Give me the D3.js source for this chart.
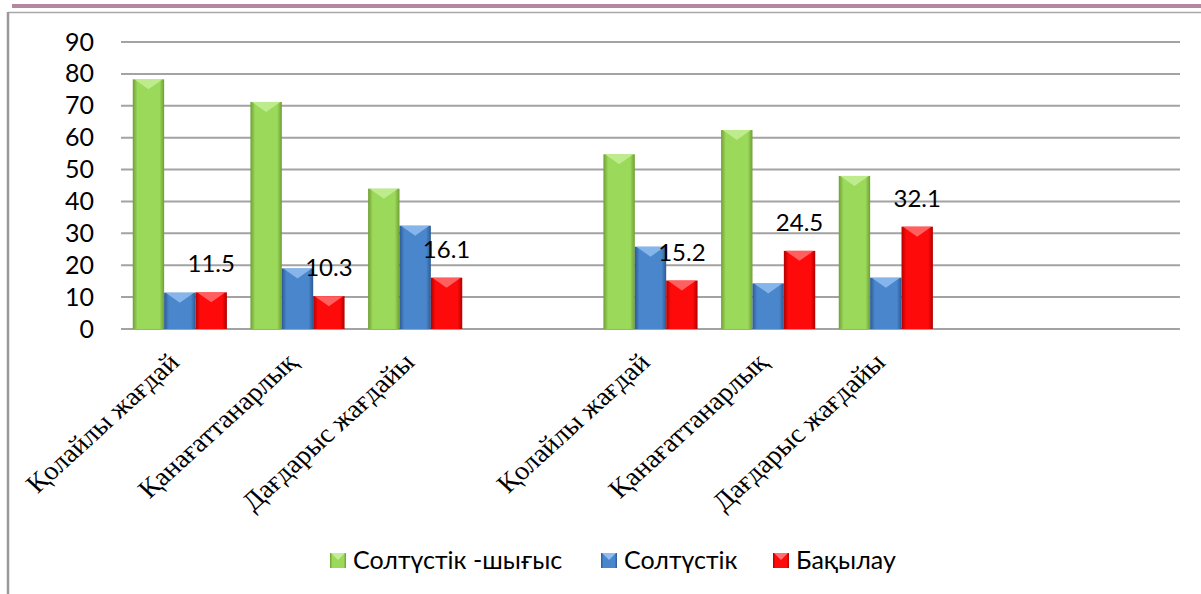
<!DOCTYPE html>
<meta charset="utf-8">
<body style="margin:0;background:#fff">
<style>
  .tick text { font-family: Lato, "Open Sans", sans-serif; }
  .cat { font-family: "Liberation Serif", "Times New Roman", serif; font-size: 26px; }
  .lbl { font-family: Lato, sans-serif; font-size: 24px; fill: #000; }
  .leg { font-family: Lato, sans-serif; font-size: 25px; fill: #000; }
</style>
<script src="https://d3js.org/d3.v7.min.js"></script>
<script>
var width = 1201, height = 594;

// categories: one empty slot between the blocks, two at the end
var categories = ["Қолайлы жағдай", "Қанағаттанарлық", "Дағдарыс жағдайы", "",
                  "Қолайлы жағдай", "Қанағаттанарлық", "Дағдарыс жағдайы", "", ""];
var seriesNames = ["Солтүстік -шығыс", "Солтүстік", "Бақылау"];
var northEast = [78.3, 71.2, 44, null, 54.8, 62.4, 48];
var north     = [11.4, 19, 32.4, null, 25.8, 14.3, 16.1];
var control   = [11.5, 10.3, 16.1, null, 15.2, 24.5, 32.1];
var yTicks = [0, 10, 20, 30, 40, 50, 60, 70, 80, 90];

var colors = [
  {edge: "#6f9e34", mid: "#9bd95a", top: "#c4ee95"},
  {edge: "#2c5a93", mid: "#4a86cc", top: "#8fbdf0"},
  {edge: "#b00000", mid: "#ff0a0a", top: "#ff6f6f"}
];

var series = [northEast, north, control];

var svg = d3.select("body").append("svg")
  .attr("width", width)
  .attr("height", height);

var defs = svg.append("defs");
colors.forEach(function(c, i) {
  var g = defs.append("linearGradient").attr("id", "grad" + i)
    .attr("x1", "0").attr("x2", "1").attr("y1", "0").attr("y2", "0");
  g.append("stop").attr("offset", "0%").attr("stop-color", c.edge);
  g.append("stop").attr("offset", "15%").attr("stop-color", c.mid);
  g.append("stop").attr("offset", "85%").attr("stop-color", c.mid);
  g.append("stop").attr("offset", "100%").attr("stop-color", c.edge);
});

// frame
svg.append("rect").attr("x", 12).attr("y", 4).attr("width", width - 12).attr("height", 4)
  .attr("fill", "#b3889f");
svg.append("line").attr("x1", 8).attr("x2", width).attr("y1", 12.5).attr("y2", 12.5)
  .attr("stroke", "#a8a8a8").attr("stroke-width", 1.5);
svg.append("line").attr("x1", 8).attr("x2", 8).attr("y1", 12).attr("y2", height)
  .attr("stroke", "#999").attr("stroke-width", 2.5);

var x0 = d3.scaleBand()
  .domain(d3.range(categories.length))
  .range([121, 1180]);

var x1 = d3.scaleBand()
  .domain(d3.range(seriesNames.length))
  .range([0, x0.bandwidth()])
  .paddingOuter(0.375);

var y = d3.scaleLinear().domain([0, 90]).range([329, 42]);

// gridlines
svg.append("g")
  .selectAll("line")
  .data(yTicks)
  .enter().append("line")
  .attr("x1", 121).attr("x2", 1180)
  .attr("y1", function(d) { return y(d); })
  .attr("y2", function(d) { return y(d); })
  .attr("stroke", "#a3a3a3")
  .attr("stroke-width", 2);

// y axis labels
var yAxis = svg.append("g")
  .attr("transform", "translate(94,0)")
  .call(d3.axisLeft(y).tickValues(yTicks).tickSize(0).tickPadding(0));
yAxis.select(".domain").remove();
yAxis.selectAll("text").attr("font-size", 25).attr("fill", "#000");

// bars
series.forEach(function(vals, s) {
  var data = vals.map(function(v, i) { return {i: i, v: v}; })
    .filter(function(d) { return d.v != null; });
  var g = svg.append("g");
  g.selectAll("rect")
    .data(data)
    .enter().append("rect")
    .attr("x", function(d) { return x0(d.i) + x1(s); })
    .attr("y", function(d) { return y(d.v); })
    .attr("width", x1.bandwidth())
    .attr("height", function(d) { return y(0) - y(d.v); })
    .attr("fill", "url(#grad" + s + ")");
  g.selectAll("polygon")
    .data(data)
    .enter().append("polygon")
    .attr("points", function(d) {
      var bx = x0(d.i) + x1(s), by = y(d.v), w = x1.bandwidth();
      return [[bx + 1.5, by], [bx + w - 1.5, by], [bx + w * 0.5, by + Math.min(10, y(0) - by)]].join(" ");
    })
    .attr("fill", colors[s].top)
    .attr("opacity", 0.85);
});

// data labels for the control series
svg.append("g")
  .selectAll("text")
  .data(control.map(function(v, i) { return {i: i, v: v}; }).filter(function(d) { return d.v != null; }))
  .enter().append("text")
  .attr("class", "lbl")
  .attr("text-anchor", "middle")
  .attr("x", function(d) { return x0(d.i) + x1(2) + x1.bandwidth() / 2; })
  .attr("y", function(d) { return y(d.v) - 20; })
  .text(function(d) { return d.v.toFixed(1); });

// category labels
svg.append("g")
  .selectAll("text")
  .data(categories.map(function(c, i) { return {i: i, c: c}; }).filter(function(d) { return d.c; }))
  .enter().append("text")
  .attr("class", "cat")
  .attr("text-anchor", "end")
  .attr("transform", function(d) {
    return "translate(" + (x0(d.i) + x0.bandwidth() / 2 + 1) + ",364) scale(1.1,1) rotate(-45)";
  })
  .text(function(d) { return d.c; });

// legend
var legX = [330, 601, 773];
var leg = svg.append("g");
seriesNames.forEach(function(n, s) {
  leg.append("rect").attr("x", legX[s]).attr("y", 553).attr("width", 16).attr("height", 15)
    .attr("fill", "url(#grad" + s + ")");
  leg.append("polygon")
    .attr("points", [[legX[s] + 1, 553], [legX[s] + 15, 553], [legX[s] + 8, 560]].join(" "))
    .attr("fill", colors[s].top);
  leg.append("text").attr("class", "leg")
    .attr("x", legX[s] + 23).attr("y", 569)
    .text(n);
});
</script>
</body>
